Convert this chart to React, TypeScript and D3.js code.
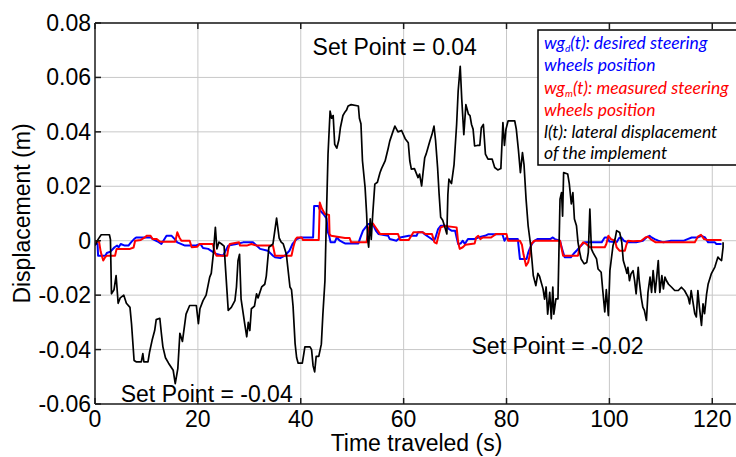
import React from 'react';
import * as d3 from 'd3';

// axis ticks
const xTicks = [0, 20, 40, 60, 80, 100, 120];
const yTicks = [-0.06, -0.04, -0.02, 0, 0.02, 0.04, 0.06, 0.08];
const yTickLabels = ['-0.06', '-0.04', '-0.02', '0', '0.02', '0.04', '0.06', '0.08'];

// l(t): lateral displacement of the implement  [time s, displacement m]
const lateral: [number, number][] = [
  [0, -0.0018], [0.6, 0.0005], [1.2, 0.0022], [2.8, 0.0022], [3.0, 0.0005], [3.2, -0.0195],
  [3.7, -0.018], [4.1, -0.0128], [4.5, -0.023], [4.9, -0.021], [5.6, -0.02], [6.1, -0.023],
  [6.8, -0.0245], [7.1, -0.0305], [7.6, -0.044], [8.0, -0.0445], [9.0, -0.0445], [9.3, -0.0415],
  [9.5, -0.0445], [10.3, -0.0445], [10.6, -0.041], [11.1, -0.0366], [11.6, -0.033], [11.9, -0.029],
  [12.6, -0.0285], [12.9, -0.034], [13.2, -0.039], [13.7, -0.043], [14.3, -0.045], [15.2, -0.0476],
  [15.6, -0.0525], [16.1, -0.047], [16.5, -0.034], [17.0, -0.037], [17.7, -0.027], [18.4, -0.0238],
  [19.7, -0.0238], [20.1, -0.0305], [20.4, -0.025], [21.0, -0.022], [21.6, -0.02], [22.3, -0.0134],
  [22.6, -0.012], [23.0, -0.0049], [23.4, 0.0049], [23.7, -0.003], [24.1, -0.0005], [24.6, -0.0012],
  [25.1, -0.002], [25.4, -0.011], [25.9, -0.0256], [26.5, -0.0245], [27.2, -0.022], [27.5, -0.017],
  [27.8, -0.0073], [28.1, -0.005], [28.4, -0.0215], [29.1, -0.0305], [29.5, -0.0353], [29.8, -0.03],
  [30.1, -0.033], [30.4, -0.025], [31.0, -0.024], [31.4, -0.0195], [31.7, -0.021], [32.4, -0.017],
  [33.0, -0.016], [33.3, -0.013], [33.8, -0.0024], [34.6, -0.0012], [35.3, 0.0083], [35.8, 0.001],
  [36.2, -0.0005], [36.6, -0.0012], [37.2, -0.005], [37.9, -0.017], [38.2, -0.018], [38.5, -0.024],
  [38.9, -0.0378], [39.2, -0.043], [39.5, -0.045], [40.3, -0.045], [40.6, -0.0415], [40.8, -0.039],
  [41.8, -0.039], [42.1, -0.04], [42.4, -0.046], [42.7, -0.0482], [43.0, -0.0425], [43.5, -0.0425],
  [44.0, -0.038], [44.3, -0.027], [44.7, -0.0147], [45.0, 0.0098], [45.3, 0.0318], [45.7, 0.0476],
  [46.0, 0.045], [46.3, 0.046], [46.6, 0.0354], [47.0, 0.034], [47.4, 0.037], [47.7, 0.0415],
  [48.2, 0.046], [48.5, 0.047], [48.9, 0.048], [49.2, 0.0495], [49.8, 0.05], [51.2, 0.0495],
  [51.4, 0.045], [51.7, 0.043], [52.0, 0.0293], [52.5, 0.0197], [52.8, 0.01], [53.0, 0.0006],
  [53.2, -0.0024], [53.5, 0.008], [53.7, 0.0005], [54.0, 0.01], [54.4, 0.0208], [54.9, 0.0215],
  [55.4, 0.025], [55.7, 0.0265], [56.4, 0.0293], [57.0, 0.034], [57.3, 0.0366], [57.9, 0.04],
  [58.3, 0.0421], [58.9, 0.04], [59.6, 0.0405], [60.3, 0.0375], [60.9, 0.036], [61.2, 0.0293],
  [61.5, 0.0263], [62.1, 0.0265], [62.8, 0.0232], [63.1, 0.0245], [63.5, 0.0201], [63.8, 0.0255],
  [64.1, 0.0305], [64.4, 0.032], [64.7, 0.034], [65.1, 0.0366], [65.5, 0.039], [65.9, 0.0421],
  [66.2, 0.037], [66.6, 0.0269], [66.9, 0.017], [67.2, 0.0086], [67.6, 0.0075], [68.0, 0.005],
  [68.4, 0.0025], [68.6, 0.017], [68.8, 0.0226], [69.3, 0.021], [69.8, 0.028], [70.3, 0.0427],
  [70.6, 0.055], [71.0, 0.0641], [71.3, 0.052], [71.7, 0.039], [72.1, 0.05], [72.6, 0.0465],
  [72.9, 0.046], [73.2, 0.0427], [73.5, 0.041], [73.8, 0.0348], [74.3, 0.035], [74.8, 0.035],
  [75.1, 0.0415], [75.5, 0.0427], [75.9, 0.0318], [76.4, 0.03], [77.2, 0.03], [77.7, 0.0269],
  [78.3, 0.026], [78.9, 0.0265], [79.3, 0.0434], [79.6, 0.035], [79.9, 0.041], [80.3, 0.044],
  [81.6, 0.044], [81.9, 0.041], [82.3, 0.0336], [82.7, 0.025], [83.1, 0.0324], [83.4, 0.028],
  [83.8, 0.0153], [84.2, 0.0055], [84.7, -0.0018], [85.2, -0.0128], [85.7, -0.0165], [86.1, -0.012],
  [86.4, -0.013], [87.1, -0.0177], [87.4, -0.0215], [87.7, -0.017], [88.0, -0.027], [88.4, -0.019],
  [88.7, -0.0287], [89.0, -0.017], [89.2, -0.027], [89.6, -0.0214], [90.0, -0.0214], [90.4, 0.0153],
  [90.7, 0.0177], [90.9, 0.009], [91.1, 0.025], [91.9, 0.0245], [92.2, 0.021], [92.6, 0.0135],
  [92.9, 0.0177], [93.2, 0.008], [93.6, 0.0055], [93.9, -0.0006], [94.2, -0.004], [94.5, -0.0067],
  [95.1, -0.0085], [95.6, -0.008], [95.9, -0.0043], [96.2, 0.0116], [96.5, -0.003], [96.8, -0.0043],
  [97.5, -0.0067], [97.8, -0.0104], [98.4, -0.0116], [98.7, -0.018], [99.1, -0.0262], [99.4, -0.018],
  [99.8, -0.0275], [100.1, -0.011], [100.7, -0.0018], [101.1, 0.0006], [101.4, 0.0037], [102.0, 0.003],
  [102.4, -0.0005], [102.7, -0.0073], [103.1, -0.0098], [103.4, -0.012], [103.6, -0.0098], [103.9, -0.0147],
  [104.2, -0.0122], [104.6, -0.011], [104.9, -0.0147], [105.2, -0.0195], [105.6, -0.0098], [105.8, -0.0147],
  [106.2, -0.021], [106.5, -0.0244], [106.8, -0.0256], [107.2, -0.0293], [107.5, -0.019], [107.9, -0.0134],
  [108.2, -0.019], [108.5, -0.011], [108.9, -0.019], [109.2, -0.0134], [109.5, -0.0073], [109.8, -0.019],
  [110.2, -0.0128], [110.5, -0.0177], [110.8, -0.0134], [111.1, -0.0147], [111.5, -0.016], [112.1, -0.0171],
  [112.7, -0.0183], [113.4, -0.0183], [114.0, -0.0171], [114.6, -0.0183], [115.3, -0.0207], [115.6, -0.0232],
  [115.9, -0.0183], [116.2, -0.022], [116.6, -0.0268], [116.9, -0.028], [117.2, -0.0183], [117.5, -0.0244],
  [117.9, -0.0311], [118.2, -0.0232], [118.5, -0.0268], [118.9, -0.0195], [119.2, -0.0159], [119.8, -0.0122],
  [120.5, -0.0097], [121.1, -0.006], [121.4, -0.0067], [121.8, -0.0073], [122.1, -0.0024], [122.1, -0.0006],
];

// wg_d(t): desired steering wheels position
const desired: [number, number][] = [
  [0, -0.0012], [0.5, -0.0012], [0.6, -0.0055], [2.0, -0.0055], [2.3, -0.0045], [3.0, -0.004],
  [3.8, -0.0024], [4.3, -0.0018], [4.6, -0.0024], [5.0, -0.0012], [5.8, -0.0018], [6.5, -0.0018],
  [7.0, -0.0006], [7.6, 0.0006], [8.0, 0.0012], [10.9, 0.0012], [11.2, 0.0006], [12.2, -0.0003],
  [12.9, -0.0012], [13.3, 0], [13.9, 0.0018], [14.9, 0.0018], [15.5, 0.0006], [16.0, -0.0006],
  [17.5, -0.0018], [19.5, -0.0018], [20.5, -0.0012], [21.0, -0.0027], [22.0, -0.003], [22.6, -0.0037],
  [23.6, -0.0049], [24.9, -0.0055], [25.3, -0.004], [25.9, -0.0018], [27.5, -0.0012], [28.8, -0.0006],
  [30.7, -0.0006], [31.4, -0.0018], [32.1, -0.003], [33.6, -0.0037], [34.6, -0.0055], [35.0, -0.0061],
  [36.0, -0.0064], [36.9, -0.0055], [37.8, -0.0037], [38.4, -0.0012], [39.2, 0.0006], [40.0, 0.0012],
  [42.4, 0.0012], [42.6, 0.0128], [43.4, 0.0128], [43.8, 0.011], [44.4, 0.0098], [45.0, 0.0082],
  [45.3, 0.003], [45.5, 0.002], [45.8, -0.0006], [46.6, -0.0006], [47.0, 0.0012], [47.6, 0],
  [48.2, -0.0006], [48.6, -0.001], [51.2, -0.001], [51.6, 0.0012], [52.1, 0.0037], [53.1, 0.0061],
  [54.0, 0.0061], [54.6, 0.0037], [55.1, 0.0025], [57.0, 0.0018], [57.3, 0.0006], [58.6, 0],
  [59.3, 0.0012], [61.0, 0.0018], [62.5, 0.0018], [62.8, 0.0031], [63.7, 0.0031], [64.0, 0.0025],
  [65.0, 0.0012], [65.9, 0], [66.2, 0.0012], [66.7, 0.0043], [67.2, 0.0055], [68.4, 0.0055],
  [68.8, 0.0043], [69.3, 0.0037], [70.0, 0.0037], [70.3, 0.0012], [70.6, -0.0012], [71.1, -0.001],
  [71.5, 0], [71.9, -0.0012], [72.5, 0.0006], [73.7, 0.0006], [74.5, 0.0012], [75.8, 0.0018],
  [76.5, 0.0024], [79.2, 0.0024], [79.6, 0], [80.0, 0.0012], [80.3, 0.0006], [82.2, 0.0006],
  [82.6, -0.0067], [83.9, -0.0067], [84.2, -0.0045], [84.5, -0.003], [85.0, -0.001], [85.5, 0],
  [86.0, 0.0006], [88.5, 0.0006], [89.0, 0.0012], [89.4, 0.0006], [90.4, 0], [90.8, -0.003],
  [91.3, -0.0061], [92.5, -0.0061], [93.0, -0.0049], [93.6, -0.0037], [94.2, -0.0024], [94.8, -0.0012],
  [95.2, -0.0006], [98.5, -0.0006], [98.9, 0.0006], [99.1, 0.0012], [99.6, 0.0012], [100.0, -0.0003],
  [101.4, -0.0006], [101.9, 0.001], [102.3, 0.0012], [102.8, 0], [103.6, -0.0006], [105.2, -0.0006],
  [106.5, 0], [107.2, 0.0012], [107.8, 0.0018], [108.2, 0.0012], [108.8, 0.0006], [109.5, 0],
  [110.5, -0.0006], [112.0, 0], [114.5, 0], [115.2, 0.0006], [116.0, 0.0012], [117.2, 0.0012],
  [117.9, 0.0018], [118.6, 0.0012], [119.2, -0.0006], [120.5, -0.0006], [120.8, -0.0012], [121.8, -0.0012],
];

// wg_m(t): measured steering wheels position
const measured: [number, number][] = [
  [0, -0.0004], [0.8, -0.0004], [1.1, -0.004], [1.6, -0.0073], [2.0, -0.006], [2.3, -0.0055],
  [3.9, -0.0055], [4.2, -0.003], [6.8, -0.003], [7.5, -0.0025], [7.8, 0], [8.9, 0.0003],
  [9.7, 0.0012], [10.0, 0.0018], [10.8, 0.0018], [11.2, 0.0006], [12.0, 0.0006], [12.6, -0.0003],
  [13.3, -0.0004], [15.6, -0.0004], [16.0, 0.0031], [16.4, 0.0012], [16.8, 0], [18.4, 0],
  [18.8, -0.0024], [19.9, -0.0022], [20.3, -0.0012], [22.9, -0.0012], [23.3, -0.0043], [23.6, -0.0055],
  [25.7, -0.0055], [25.9, -0.003], [26.2, -0.0012], [28.0, -0.0006], [28.2, -0.0018], [29.5, -0.0018],
  [30.4, -0.0012], [31.4, -0.0018], [34.6, -0.0018], [35.0, -0.0055], [38.2, -0.0055], [38.6, -0.002],
  [39.0, 0.0006], [39.3, 0.0012], [40.2, 0.0012], [40.4, 0.0003], [43.5, 0.0003], [43.7, 0.014],
  [44.1, 0.0118], [44.7, 0.0098], [45.5, 0.0095], [45.6, 0.0025], [45.9, 0.0018], [48.6, 0.001],
  [49.5, 0.001], [49.8, -0.0006], [52.8, -0.0006], [53.1, 0.004], [53.5, 0.006], [54.0, 0.0064],
  [54.7, 0.0045], [55.4, 0.0025], [58.9, 0.0025], [59.3, 0.0003], [61.0, 0.0003], [61.5, 0.0018],
  [61.9, 0.0031], [63.7, 0.0031], [64.2, 0.0025], [65.5, 0.0025], [66.0, -0.0006], [66.4, -0.001],
  [66.8, 0.002], [67.2, 0.0049], [68.0, 0.0054], [70.3, 0.0049], [70.6, -0.0006], [70.9, -0.003],
  [71.5, -0.0024], [72.0, -0.0015], [73.8, -0.001], [74.1, 0.0012], [74.5, 0.0018], [74.9, 0.0006],
  [75.4, 0.0012], [77.0, 0.0012], [78.0, 0.0025], [80.0, 0.0025], [80.3, 0], [82.6, 0],
  [83.0, -0.0015], [83.3, -0.005], [83.8, -0.0092], [84.2, -0.008], [84.5, -0.0055], [84.8, -0.0012],
  [85.4, 0], [90.4, 0], [91.0, -0.0055], [93.9, -0.0055], [94.2, -0.0024], [94.9, -0.0006],
  [95.5, -0.0012], [96.2, -0.0024], [99.1, -0.0024], [99.4, -0.0012], [99.8, 0.0018], [100.3, 0.0006],
  [101.1, 0], [101.4, -0.0024], [102.0, -0.0037], [103.0, -0.0037], [103.3, -0.0015], [103.6, 0],
  [104.6, -0.0002], [106.2, 0], [107.0, 0.0012], [107.5, 0.0015], [108.0, 0.0006], [109.0, -0.0006],
  [116.6, -0.0006], [117.2, 0.0015], [117.8, 0.0022], [118.4, 0.0006], [119.0, 0.0003], [121.8, 0.0003],
];

const setPointLabels = ['Set Point = 0.04', 'Set Point = -0.02', 'Set Point = -0.04'];

const W = 736;
const H = 457;
const left = 95, right = 738, top = 23, bottom = 404;

export default function App() {
  const x = d3.scaleLinear().domain([0, 125]).range([left, right]);
  const y = d3.scaleLinear().domain([-0.06, 0.08]).range([bottom, top]);
  const line = d3.line<[number, number]>().x(d => x(d[0])).y(d => y(d[1]));

  const font = "'Liberation Sans', Arial, Helvetica, sans-serif";
  const legendFont = "Lato, 'Open Sans', sans-serif";

  // annotation anchors (text baseline start) in data units
  const spAnchors: [number, number][] = [[42.3, 0.0682], [73.2, -0.0415], [5.0, -0.0593]];

  return (
    <svg width={W} height={H} style={{ position: 'absolute', left: 0, top: 0, background: '#fff' }}>
      <defs>
        <clipPath id="plot">
          <rect x={left} y={top} width={right - left} height={bottom - top} />
        </clipPath>
      </defs>
      <rect x={0} y={0} width={W} height={H} fill="#fff" />

      {/* grid */}
      <g stroke="#c8c8c8" strokeWidth={1}>
        {xTicks.slice(1).map(t => (
          <line key={'gx' + t} x1={x(t)} x2={x(t)} y1={top} y2={bottom} />
        ))}
        {yTicks.slice(1).map(t => (
          <line key={'gy' + t} x1={left} x2={right} y1={y(t)} y2={y(t)} />
        ))}
      </g>

      {/* series */}
      <g clipPath="url(#plot)" fill="none" strokeLinejoin="round">
        <path d={line(desired) || ''} stroke="#0000ff" strokeWidth={2} />
        <path d={line(measured) || ''} stroke="#ff0000" strokeWidth={2} />
        <path d={line(lateral) || ''} stroke="#000" strokeWidth={1.7} />
      </g>

      {/* axes box and ticks */}
      <g stroke="#1a1a1a" strokeWidth={1.5}>
        <line x1={left} x2={right} y1={top} y2={top} />
        <line x1={left} x2={right} y1={bottom} y2={bottom} />
        <line x1={left} x2={left} y1={top} y2={bottom} />
        {xTicks.map(t => (
          <g key={'tx' + t}>
            <line x1={x(t)} x2={x(t)} y1={bottom} y2={bottom - 6} />
            <line x1={x(t)} x2={x(t)} y1={top} y2={top + 6} />
          </g>
        ))}
        {yTicks.map(t => (
          <line key={'ty' + t} x1={left} x2={left + 6} y1={y(t)} y2={y(t)} />
        ))}
      </g>

      {/* tick labels, axis titles, annotations */}
      <g fontFamily={font} fontSize={23} fill="#000">
        {xTicks.map(t => (
          <text key={'lx' + t} x={x(t)} y={bottom + 23} textAnchor="middle">{t}</text>
        ))}
        {yTicks.map((t, i) => (
          <text key={'ly' + t} x={left - 4} y={y(t) + 8} textAnchor="end">{yTickLabels[i]}</text>
        ))}
        <text x={(left + right) / 2} y={451} textAnchor="middle">Time traveled (s)</text>
        <text transform={`translate(30,${(top + bottom) / 2}) rotate(-90)`} textAnchor="middle">Displacement (m)</text>
        {setPointLabels.map((s, i) => (
          <text key={s} x={x(spAnchors[i][0])} y={y(spAnchors[i][1])}>{s}</text>
        ))}
      </g>

      {/* legend */}
      <g>
        <rect x={538} y={30} width={210} height={135} fill="#fff" stroke="#000" strokeWidth={1.5} />
        <g fontFamily={legendFont} fontStyle="italic" fontSize={17.5}>
          <text x={544} y={49} fill="#0000ff">
            wg<tspan dy={3} fontSize={10}>d</tspan><tspan dy={-3}>(t): desired steering</tspan>
          </text>
          <text x={544} y={71} fill="#0000ff">wheels position</text>
          <text x={544} y={94} fill="#ff0000">
            wg<tspan dy={3} fontSize={10}>m</tspan><tspan dy={-3}>(t): measured steering</tspan>
          </text>
          <text x={544} y={116} fill="#ff0000">wheels position</text>
          <text x={544} y={138} fill="#000">l(t): lateral displacement</text>
          <text x={544} y={159} fill="#000">of the implement</text>
        </g>
      </g>
    </svg>
  );
}
